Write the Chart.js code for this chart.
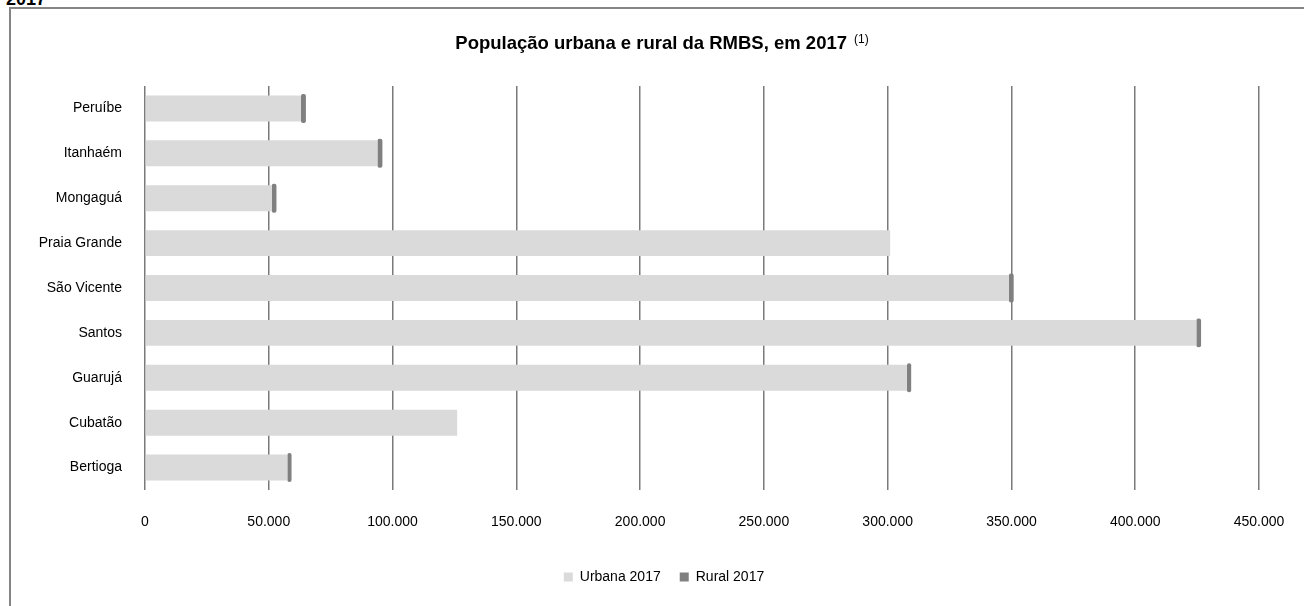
<!DOCTYPE html>
<html lang="pt-BR">
<head>
<meta charset="utf-8">
<title>População urbana e rural da RMBS, em 2017</title>
<script src="https://cdn.jsdelivr.net/npm/chart.js@4.4.1/dist/chart.umd.min.js"></script>
<style>
  html, body { margin: 0; padding: 0; background: #fff; overflow: hidden; width: 1304px; height: 606px; }
  #heading { position: absolute; left: 6px; top: -10px; font: bold 18px "Liberation Sans", Arial, sans-serif; line-height: 18px; color: #000; }
  #frame { position: absolute; left: 9px; top: 7px; width: 1400px; height: 700px; border-top: 2px solid #858585; border-left: 2px solid #858585; }
  #wrap { position: absolute; left: 11px; top: 9px; width: 1306px; height: 600px; }
</style>
</head>
<body>
<div id="heading">2017</div>
<div id="frame"></div>
<div id="wrap"><canvas id="chart" width="1306" height="600"></canvas></div>
<script>
// Municípios da Região Metropolitana da Baixada Santista
const municipios = ['Peruíbe', 'Itanhaém', 'Mongaguá', 'Praia Grande', 'São Vicente', 'Santos', 'Guarujá', 'Cubatão', 'Bertioga'];
// População urbana e rural, 2017
const urbana2017 = [63000, 93900, 51200, 301000, 349000, 424700, 307800, 126100, 57500];
const rural2017 = [2000, 2000, 1900, 0, 1900, 1900, 1700, 0, 1700];
// Eixo horizontal
const eixoMin = 0;
const eixoMax = 450000;
const eixoPasso = 50000;

const tituloTexto = 'População urbana e rural da RMBS, em 2017';
const tituloNota = '(1)';

const FONTE = '"Liberation Sans", Arial, sans-serif';

function milhar(v) {
  return String(Math.round(v)).replace(/\B(?=(\d{3})+(?!\d))/g, '.');
}

// Título com a nota sobrescrita
const tituloPlugin = {
  id: 'tituloComNota',
  afterDraw(chart) {
    const ctx = chart.ctx;
    ctx.save();
    ctx.fillStyle = '#000';
    ctx.textBaseline = 'alphabetic';
    ctx.textAlign = 'left';
    ctx.font = 'bold 18.5px ' + FONTE;
    const wMain = ctx.measureText(tituloTexto).width;
    ctx.font = '12px ' + FONTE;
    const wNota = ctx.measureText(tituloNota).width;
    const gap = 7;
    const total = wMain + gap + wNota;
    const x0 = 651 - total / 2;
    ctx.font = 'bold 18.5px ' + FONTE;
    ctx.fillText(tituloTexto, x0, 40);
    ctx.font = '12px ' + FONTE;
    ctx.fillText(tituloNota, x0 + wMain + gap, 34);
    ctx.restore();
  }
};

new Chart(document.getElementById('chart'), {
  type: 'bar',
  data: {
    labels: municipios,
    datasets: [
      {
        label: 'Urbana 2017',
        data: urbana2017,
        backgroundColor: '#dadada',
        borderWidth: 0,
        barPercentage: 0.578,
        categoryPercentage: 1
      },
      {
        label: 'Rural 2017',
        data: rural2017,
        backgroundColor: '#808080',
        borderColor: '#808080',
        borderWidth: 0,
        borderRadius: 2,
        borderSkipped: false,
        barPercentage: 0.645,
        categoryPercentage: 1
      }
    ]
  },
  options: {
    indexAxis: 'y',
    responsive: false,
    animation: false,
    devicePixelRatio: 1,
    layout: { padding: { top: 77, right: 0, bottom: 15, left: 0 } },
    scales: {
      x: {
        stacked: true,
        min: eixoMin,
        max: eixoMax,
        afterFit(scale) { scale.height = 61; },
        ticks: {
          stepSize: eixoPasso,
          padding: 24,
          color: '#000',
          font: { family: FONTE, size: 14 },
          maxRotation: 0,
          callback: (v) => milhar(v)
        },
        grid: { color: '#7a7a7a', lineWidth: 1.5, drawTicks: false },
        border: { display: false }
      },
      y: {
        stacked: true,
        afterFit(scale) { scale.width = 134; },
        ticks: {
          padding: 23,
          color: '#000',
          font: { family: FONTE, size: 14 }
        },
        grid: { display: false, drawTicks: false },
        border: { display: false }
      },
      // margem à direita da área de plotagem
      margem: {
        type: 'linear',
        axis: 'y',
        position: 'right',
        afterFit(scale) { scale.width = 58; },
        ticks: { display: false },
        grid: { display: false, drawTicks: false },
        border: { display: false }
      }
    },
    plugins: {
      title: { display: false },
      tooltip: { enabled: false },
      legend: {
        position: 'bottom',
        labels: {
          boxWidth: 9,
          boxHeight: 9,
          padding: 19,
          color: '#000',
          font: { family: FONTE, size: 14 }
        }
      }
    }
  },
  plugins: [tituloPlugin]
});
</script>
</body>
</html>
